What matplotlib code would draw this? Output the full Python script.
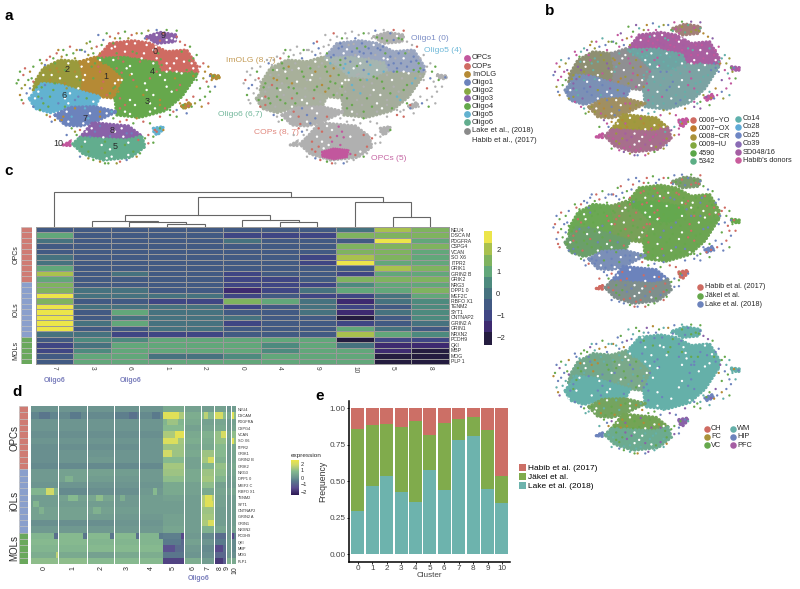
import numpy as np
import matplotlib
matplotlib.use('Agg')
import matplotlib.pyplot as plt
from matplotlib.colors import BoundaryNorm, ListedColormap, LinearSegmentedColormap
from matplotlib.patches import Polygon, Rectangle

plt.rcParams['font.family'] = ['Liberation Sans', 'DejaVu Sans']

W, H = 800, 589
DARK = '#2a2a2a'

# ---------- colours ----------
R = '#cf6b62'; O = '#b58a35'; OL = '#9a9a3c'; G = '#66a84c'; LB = '#62b2d0'; B = '#6c83bc'
P = '#8a62a8'; T = '#62ad8e'; PK = '#c2579d'; GR = '#b0b0b0'; TQ = '#65b0a9'; WH = '#ffffff'
MG = '#a55ea3'; YG = '#82a83f'

# ---------- t-SNE: outlines of the dense cluster bodies ----------
outlines = {
    '2': [(100,270),(105,245),(130,205),(180,180),(240,185),(250,230),(245,275),(180,255),(125,250)],
    '1': [(240,185),(290,170),(330,195),(375,235),(350,295),(300,290),(245,275),(250,230)],
    '0': [(300,165),(330,130),(400,122),(450,130),(500,155),(560,150),(592,200),(590,222),(480,218),(470,190),(375,175),(310,180)],
    '4': [(295,175),(375,172),(470,188),(482,218),(430,240),(375,235),(330,195)],
    '3': [(345,295),(375,235),(430,240),(482,218),(592,222),(545,290),(495,332),(420,352),(350,345)],
    '6': [(88,295),(125,250),(180,255),(245,275),(300,290),(285,320),(210,322),(150,338),(105,325)],
    '7': [(165,345),(210,322),(285,320),(350,335),(280,368),(240,378),(195,375)],
    '9': [(440,110),(480,97),(530,105),(525,125),(470,130)],
    '8': [(240,412),(278,368),(385,378),(425,408),(380,420),(280,415)],
    '5': [(218,432),(240,412),(280,415),(380,420),(425,408),(435,440),(392,472),(310,480),(250,462)],
    '10': [(190,435),(210,425),(210,437)],
    'x': [(460,385),(490,380),(485,392),(472,405),(462,398)],
    'y': [(632,225),(660,228),(655,237),(635,233)],
    'z': [(545,318),(570,307),(572,318),(552,325)],
}
opc_core = [(285,455),(320,445),(365,450),(360,472),(320,478),(285,470)]

# single cells read inside each body
cells = {
    '0': [(320,165),(335,145),(350,160),(365,135),(375,155),(390,145),(405,130),(410,160),(425,145),(440,135),(445,165),(460,150),(475,160),(490,170),(500,190),(515,160),(530,175),(545,155),(560,170),(575,190),(540,200),(510,205),(485,195),(395,170),(425,175),(355,175),(580,205),(340,130),
          (312,172),(345,140),(360,148),(380,132),(398,155),(415,140),(432,160),(452,145),(468,140),(482,178),(505,175),(522,190),(535,160),(552,185),(568,182),(590,210),(470,175),(385,165),(500,215),(560,210)],
    '9': [(450,112),(470,105),(490,100),(510,108),(525,118),(480,122),(460,125),(500,120),(440,118),(465,115),(515,115),(530,110)],
    '2': [(115,250),(130,225),(150,210),(165,190),(185,200),(205,190),(225,215),(240,240),(210,245),(180,235),(150,240),(125,262),(200,265),(235,265),(175,215),
          (110,262),(140,235),(155,225),(170,205),(195,210),(215,205),(230,230),(195,250),(165,250),(138,210),(245,200)],
    '1': [(250,205),(265,185),(285,190),(300,215),(320,205),(335,225),(355,240),(340,265),(320,285),(295,275),(270,260),(250,240),(280,235),(310,245),(265,215),(345,285),
          (255,225),(275,200),(295,200),(310,228),(325,250),(345,250),(330,280),(305,265),(285,255),(262,270),(300,180)],
    '4': [(310,190),(340,180),(370,185),(400,190),(430,195),(460,190),(470,215),(440,230),(410,210),(380,205),(350,205),
          (325,185),(355,192),(390,198),(420,185),(450,210),(425,222),(395,222),(365,218),(340,195)],
    '3': [(345,260),(365,240),(390,225),(420,240),(450,235),(480,225),(510,215),(545,220),(580,228),(555,250),(530,270),(500,260),(470,265),(440,270),(410,260),(380,270),(360,295),(390,300),(420,295),(450,310),(480,300),(510,290),(495,325),(450,335),(410,335),(375,335),
          (355,275),(375,255),(400,240),(435,250),(465,245),(495,240),(525,235),(565,235),(540,255),(515,275),(490,280),(460,285),(430,285),(400,280),(375,315),(405,315),(435,320),(465,325),(480,315),(520,300),(360,325),(390,342),(575,215),(530,215)],
    '6': [(95,300),(115,275),(135,255),(160,270),(185,262),(210,280),(235,290),(260,295),(240,310),(205,310),(175,310),(145,320),(115,315),
          (105,295),(125,295),(150,290),(170,285),(195,295),(225,300),(130,310),(160,300),(280,305),(100,320),(195,320),(150,265)],
    '7': [(175,345),(200,335),(225,325),(255,325),(285,335),(320,340),(300,350),(265,355),(240,365),(205,365),
          (185,360),(215,350),(240,345),(270,340),(300,335),(335,335),(220,372),(250,370),(190,350)],
    '8': [(250,408),(275,385),(300,378),(335,380),(365,385),(395,400),(410,405),(370,410),(330,408),(290,405),
          (260,395),(285,395),(315,390),(345,395),(380,400),(400,410),(310,412),(270,410),(350,412)],
    '5': [(230,432),(255,425),(285,425),(315,425),(350,428),(385,428),(420,440),(400,455),(370,462),(335,470),(300,465),(265,455),(290,445),(330,448),(365,445),
          (245,440),(275,440),(305,435),(340,435),(375,435),(410,445),(385,465),(350,458),(315,458),(280,468),(320,475),(255,448)],
}

# cells scattered outside the bodies
strays = [(60,215),(75,205),(90,215),(100,200),(125,190),(135,195),(160,175),(170,160),(190,150),(210,140),(230,150),(245,150),(260,130),
          (295,105),(320,100),(355,100),(360,115),(395,105),(410,100),(425,100),(445,92),(470,90),(530,92),(540,125),(580,175),(600,200),
          (615,215),(590,240),(610,235),(645,260),(600,265),(580,290),(615,290),(625,310),(605,320),(575,320),(550,325),(530,330),(510,345),
          (430,365),(400,370),(380,360),(60,285),(65,300),(75,255),(90,265),(55,240),(100,245),(120,330),(150,350),(165,360),(230,405),
          (225,395),(200,405),(435,415),(445,430),(460,428),(415,420),(300,485),(325,490),(350,490),(380,480),(280,480),(470,395),(480,385),
          (465,390),(490,390),(640,228),(655,232),(630,228),(550,315),(565,318),(510,330),(520,335),(300,160),(280,160),(265,165),(240,150),
          (115,290),(70,225),(85,240),(140,180),(185,170),(220,160),(275,145),(310,120),(570,140),(595,215),(625,260),(560,300),(540,310),
          (50,250),(65,265),(80,280),(95,235),(70,310),(120,180),(150,170),(175,150),(200,165),(225,175),(255,155),(270,125),(290,140),(305,135),
          (330,110),(345,115),(375,95),(385,115),(435,115),(500,90),(555,135),(590,165),(610,190),(625,200),(600,300),(585,310),(560,340),(530,350),
          (480,350),(450,370),(360,365),(410,355),(340,355),(140,345),(155,365),(215,385),(240,390),(460,410),(445,405),(410,470),(420,460),(265,475),
          (240,470),(315,490),(360,485),(630,275),(620,245),(635,240)]

# per panel: body colour and the colours of the cells on top of it
panel_a1 = {'0':(R,[R,WH,G,R,WH]), '9':(P,[P,WH,R]), '2':(OL,[OL,WH,O,G]), '1':(O,[O,WH,G,R,O]), '4':(G,[G,WH,R,G]), '3':(G,[G,WH,O,G,R,WH]),
            '6':(LB,[LB,WH,B,G]), '7':(B,[B,WH,O,LB]), '8':(P,[P,WH,B]), '5':(T,[T,WH,T,G]), '10':(PK,[PK]), 'x':(LB,[B]), 'y':(O,[O]), 'z':(O,[O])}
strays_a1 = [G,R,O,G,OL,B,G,R]
panel_a2 = {'0':('#9aa6c0',[B,B,WH,GR,B,G,B]), '9':(GR,[G,GR,B,WH,G]), '2':('#a8b09a',[G,GR,WH,G,O,GR]), '1':('#a8b09a',[G,WH,GR,G,O]), '4':('#a5b5b0',[LB,G,B,WH,LB,GR]), '3':('#a5ad9c',[G,WH,GR,LB,G,GR]),
            '6':('#a9b1a0',[G,GR,R,WH,G]), '7':(GR,[GR,R,B,WH,GR]), '8':(GR,[GR,R,WH,PK,GR]), '5':(GR,[GR,R,WH,PK,GR]), '10':(GR,[GR]), 'x':(GR,[GR]), 'y':(GR,[GR]), 'z':(GR,[GR])}
strays_a2 = [GR,GR,G,GR,B,GR,R,GR]
panel_b1 = {'0':('#a95fa0',[PK,WH,MG,TQ,PK]), '9':('#a37f78',[PK,OL,T]), '2':('#8e8f72',[OL,P,WH,PK,TQ]), '1':('#8f8f92',[O,TQ,WH,PK,OL]), '4':('#6fa3a2',[TQ,PK,WH,TQ]),
            '3':('#7ba3a3',[TQ,PK,WH,B,TQ]), '6':('#7b90b5',[B,P,OL,WH,TQ]), '7':('#a08f62',[OL,O,B,WH,PK]), '8':('#a2983f',[OL,O,WH,PK]), '5':('#a76f8c',[PK,OL,MG,WH,PK]),
            '10':(PK,[PK]), 'x':(PK,[PK]), 'y':(MG,[O]), 'z':(PK,[OL])}
strays_b1 = [PK,TQ,OL,B,PK,G,P,O]
panel_b2 = {'0':('#72a552',[G,R,WH,G,B,R]), '9':('#7b9a6d',[G,R,B]), '2':('#6ba854',[G,R,WH,B,G]), '1':('#78a058',[G,R,WH,G,R]), '4':('#64a84f',[G,R,WH,G]),
            '3':('#6ca552',[G,R,WH,G,B]), '6':('#6b9f6a',[G,R,B,WH,G]), '7':('#7b8fb8',[B,WH,B,G]), '8':('#6c83bc',[B,R,WH,B]), '5':('#7f8f8c',[R,G,B,WH,R]),
            '10':(R,[R]), 'x':(R,[R]), 'y':(G,[B]), 'z':(B,[B])}
strays_b2 = [B,R,G,B,R,G,B]
panel_b3 = {'0':(TQ,[TQ,B,WH,TQ,G]), '9':(TQ,[TQ,G,B]), '2':('#72a88c',[TQ,G,WH,B,O]), '1':('#7aa98a',[G,TQ,WH,B]), '4':(TQ,[TQ,B,WH,TQ]),
            '3':(TQ,[TQ,B,WH,TQ,TQ]), '6':(TQ,[TQ,B,WH,TQ]), '7':('#74a45f',[G,O,WH,TQ]), '8':('#74a455',[G,O,WH,P]), '5':('#6cab90',[TQ,G,P,WH,TQ]),
            '10':(B,[B]), 'x':(P,[MG]), 'y':(TQ,[TQ]), 'z':(B,[B])}
strays_b3 = [B,G,TQ,O,B,TQ,G,P]

cluster_labels = ['9','0','2','1','4','6','3','7','8','5']
cluster_label_xy = [(490,107),(465,155),(200,210),(316,230),(458,215),(193,288),(442,305),(255,357),(335,392),(344,440)]

# ---------- panel c ----------
genes_c = ['NEU4','DSCA M','PDGFRA','CSPG4','VCAN','SO X6','ITPR2','GRIK1','GRIN2 B','GRIK2','NRG3','DPP1 0','MEF2C','RBFO X1','TENM2','SYT1','CNTNAP2','GRIN2 A','GRIN1','NRXN2','PCDH9','QKI','MBP','MOG','PLP 1']
order_c = ['7','3','6','1','2','0','4','9','10','5','8']
c7  = [-.5,1,.2,-.5,-.5,.2,.2,1,2,1,1.5,1.5,2.5,1.5,2.5,2.5,2.5,2.5,2.5,.2,-.5,-1,-1,-.5,-.5]
c3  = [-.5,-.5,-.5,-.5,-.5,-.5,-.5,-.5,-.5,-.5,-.5,-.1,0,-.5,0,-.5,-.5,0,-.5,.2,.7,.2,.7,.8,.8]
c6  = [-.5,-.5,-.5,-.5,-.5,-.5,-.5,-.5,0,-.5,-.5,.2,-.2,-.5,.2,1,.2,1,-.5,-1,.7,.8,.8,.8,.8]
c1  = [-.5,-.5,-.5,-.5,-.5,-.5,-.5,-.5,-.5,-.5,-.5,-.5,.2,-1,.2,.2,.2,.2,.2,-1,.8,.8,.8,0,.8]
c2  = [-.5,-.5,-.5,-.5,-.5,-.5,-.5,-.5,-.5,-.5,-.5,-.5,.2,-1,.2,.2,.2,.2,.2,-1,1,.8,.8,0,.8]
c0  = [-.5,-1,0,-.3,-.3,-.3,-.3,-.3,-1,-1,-1,-1.5,-1,1.5,-1,-.5,.2,-1,-.5,-.5,.8,1.2,.8,.6,.8]
c4  = [-.5,-1,-.5,-.5,-.5,-.5,-.5,-.5,-.5,-1,-1,-1,-.5,1,-.5,-.5,-.5,-.5,-.5,-.5,.8,.7,.7,.8,.8]
c9  = [-.5,-1,-.5,-.5,-.5,-1,-1,-.5,-.5,-.5,-1,-.2,-1,0,0,0,-.3,-.3,-.5,-.5,.8,1.2,.8,.8,.8]
c10 = [.2,1.5,-.5,1.5,1.5,2,2.5,-.5,-1,1.5,.7,1,-1,-1.5,-1,-1.5,-2,-1,1,2,-2,.2,.8,1.2,.8]
c5  = [2,1.5,2.5,1.5,1.5,1.5,1.2,2,1.2,1.5,1.2,1.2,0,0,-.3,0,-.5,-.5,.2,1,-1,-1.5,-1.5,-2,-2]
c8  = [1.5,1.5,1.2,1.5,1,1,1,1.5,1.2,1.5,1,1.5,1,.7,.7,.7,.7,.2,-.3,.7,-1,-1.5,-2,-2,-2]
heat_c = np.array([c7,c3,c6,c1,c2,c0,c4,c9,c10,c5,c8]).T

bin_edges = [-2.35,-1.75,-1.25,-0.75,-0.25,0.25,0.75,1.25,1.75,2.3,2.83]
bin_colours = ['#241c3f','#3d2a70','#3f4684','#425a83','#46727f','#4d8a7e','#62a77a','#7fb35f','#a9c14e','#ece54a']
cbar_ticks = [2,1,0,-1,-2]
cbar_labels = ['2','1','0','\u22121','\u22122']

# dendrogram merges: left x, right x, height, left foot, right foot (x in column units)
dendro = [(3.5,4.5,3.3,0,0),(2.5,4.0,5.3,0,3.3),(1.5,3.25,5.7,0,5.3),(6.5,7.5,4.7,0,0),(5.5,7.0,7,0,4.7),
          (2.38,6.25,12,5.7,7),(8.5,10.0,24.7,0,9.7),(9.5,10.5,9.7,0,0),(4.31,9.25,30,12,24.7),(0.5,6.79,35,0,30)]

row_groups = ['OPCs','iOLs','MOLs']
row_group_sizes = [10,10,5]
row_group_colours = ['#cf7b73','#8a9fcc','#6aa85c']

# ---------- panel d ----------
genes_d = ['NEU4','DSCAM','PDGFRA','CSPG4','VCAN','SO X6','ITPR2','GRIK1','GRIN2 B','GRIK2','NRG3','DPP1 0','MEF2 C','RBFO X1','TENM2','SYT1','CNTNAP2','GRIN2 A','GRIN1','NRXN2','PCDH9','QKI','MBP','MOG','PLP1']
d0  = [0,-.3,0,0,-.1,0,-.1,-.1,-.1,-.2,.1,.1,0,.8,.2,.2,.3,.3,-.1,.1,.8,.9,.8,.6,1]
d1  = [0,-.2,0,0,-.1,0,-.1,0,0,-.2,.3,.3,0,-.2,.3,.2,.3,.3,-.1,.1,.9,.9,.8,.5,1]
d2  = [0,-.2,0,0,-.1,0,-.1,0,.1,-.2,.3,.2,0,-.1,.4,.2,.3,.2,-.1,.1,.9,.8,.9,.3,.9]
d3  = [0,-.4,0,0,-.1,0,-.1,0,0,-.2,.2,.1,0,-.1,.1,.1,.2,.1,0,.1,.9,.8,.9,.5,.9]
d4  = [0,-.2,0,0,-.1,0,0,0,0,-.2,.1,.1,0,.1,.2,.2,.2,.1,0,.1,.8,.8,.9,.6,.9]
d5  = [.5,1.4,.8,.9,1.4,1.3,1.2,1.2,.9,1.3,1.2,1,.5,.5,.3,.2,.2,.3,.3,.4,-.4,-.5,-.8,-.6,-1.4]
d6  = [.3,.6,.5,.3,.5,.6,.4,.5,.3,.3,.5,.5,.3,.3,.2,.2,.2,.2,.2,.2,.1,.3,.1,0,.6]
d7  = [.2,.9,.3,.4,.7,.6,.5,1.2,1.3,.8,1.2,1.3,1,.5,1.5,1.5,1.2,1.3,1.4,.7,-.2,0,-.2,-.1,.2]
d8  = [.3,1.0,.4,.5,1.1,1.1,.9,.9,.7,1.1,1,.8,.3,.4,.3,.3,.2,.2,.2,.4,-.8,-.5,-.8,-.9,-1.2]
d9  = [0,.4,.1,.1,.3,.2,.1,.1,.1,.2,.2,.1,.1,.3,.1,.1,.1,.1,.1,.1,.1,.2,.2,.1,.7]
d10 = [.2,1,.3,.4,1,1.1,.5,.4,.4,.5,.4,.3,.2,.4,.2,.2,.2,.2,.2,.3,-.4,-.2,-.2,-.1,.5]
heat_d = [d0,d1,d2,d3,d4,d5,d6,d7,d8,d9,d10]
d_clusters = ['0','1','2','3','4','5','6','7','8','9','10']
# stretches of single cells that stand out inside a cluster: cluster, from, to (share of width), gene row, value
d_streaks = [(0,.55,.85,13,1.9),(0,.1,.3,15,.8),(0,.3,.5,16,.7),(0,.3,.7,1,-.6),(0,.85,1,20,-.7),(0,.9,1,23,1.6),
             (1,.3,.7,14,.9),(1,.2,.5,11,.7),(1,.4,.8,1,-.5),(1,.85,1,20,-.6),(2,.3,.6,14,1),(2,.85,1,20,-.6),(2,.2,.5,16,.7),
             (3,.6,.9,1,-.7),(3,.85,1,20,-.7),(3,.2,.4,14,.6),(4,.85,1,20,-.5),(4,.5,.9,1,-.5),(4,.55,.75,13,.9),
             (5,0,.75,1,2.2),(5,.55,1,4,2.3),(5,0,.7,5,2.1),(5,0,.4,7,1.9),(5,.2,.7,2,1.2),(5,.85,1,20,-1.6),(5,.85,1,21,-.9),(5,0,.55,22,-1.4),(5,0,1,24,-1.7),
             (7,.3,.8,14,2.2),(7,.3,.9,15,2.2),(7,.5,1,18,2.1),(7,.2,.5,1,1.6),(7,.5,1,8,2),
             (8,0,.7,1,2),(8,.5,1,4,2),(8,0,.7,22,-1.6),(8,0,.7,24,-1.9),(10,0,.5,1,2.2),(10,0,.5,5,2.2),(10,0,.6,20,-1.6)]

# ---------- panel e ----------
cluster_e = ['0','1','2','3','4','5','6','7','8','9','10']
lake  = [.30,.47,.54,.43,.36,.58,.44,.78,.81,.45,.355]
jakel = [.56,.415,.355,.445,.55,.24,.46,.15,.13,.40,.18]
habib = [.14,.115,.105,.125,.09,.18,.10,.07,.06,.15,.465]


fig = plt.figure(figsize=(W/100, H/100), dpi=100)
fig.set_facecolor('white')

def px_axes(x0, y0, x1, y1):
    # axes placed by pixel box of the 800x589 canvas
    return fig.add_axes([x0/W, 1-y1/H, (x1-x0)/W, (y1-y0)/H])

def draw_tsne(x0, y0, sx, sy, scheme, stray_cols, size=3.0):
    # data frame is the t-SNE frame 40..680 / 80..500
    ax = px_axes(x0+40*sx, y0+80*sy, x0+680*sx, y0+500*sy)
    ax.set_xlim(40, 680); ax.set_ylim(500, 80); ax.axis('off')
    for name, pts in outlines.items():
        # dotted edge in the body colour keeps the rim from looking cut out
        ax.add_patch(Polygon(pts, closed=True, facecolor=scheme[name][0], edgecolor=scheme[name][0],
                             linewidth=2.4, linestyle=(0, (0.1, 1.0)), capstyle='round'))
    xy = np.array(strays)
    ax.scatter(xy[:,0], xy[:,1], s=size, c=[stray_cols[i % len(stray_cols)] for i in range(len(xy))], linewidths=0)
    for name, pts in cells.items():
        cols = scheme[name][1]
        xy = np.array(pts)
        ax.scatter(xy[:,0], xy[:,1], s=size, c=[cols[i % len(cols)] for i in range(len(xy))], linewidths=0)
    return ax

# ---------- panel a ----------
ax = draw_tsne(0, 0, 1/3, 1/3, panel_a1, strays_a1)
for t, (x, y) in zip(cluster_labels, cluster_label_xy):
    ax.text(x, y, t, fontsize=6.5, color=DARK, ha='center', va='center')
ax.text(175, 430, '10', fontsize=6.5, color=DARK, ha='center', va='center')
ax = draw_tsne(227, 0, 1/3, 1/3, panel_a2, strays_a2)
ax.add_patch(Polygon(opc_core, closed=True, facecolor=PK, edgecolor=PK, linewidth=1.5, linestyle=(0, (0.1, 1.0)), capstyle='round'))

# ---------- panel b ----------
draw_tsne(555-55*.306, 20-85*.334, .306, .334, panel_b1, strays_b1, size=2.8)
draw_tsne(555-55*.306, 173-85*.33, .306, .33, panel_b2, strays_b2, size=2.8)
draw_tsne(555-55*.306, 323-85*.322, .306, .322, panel_b3, strays_b3, size=2.8)

# ---------- panel c ----------
ax = px_axes(35.5, 227, 449, 364)
cmap_c = ListedColormap(bin_colours)
norm_c = BoundaryNorm(bin_edges, cmap_c.N)
ax.pcolormesh(heat_c, cmap=cmap_c, norm=norm_c, edgecolors='#999999', linewidth=0.7)
ax.set_ylim(25, 0)
ax.set_xticks(np.arange(11)+.5)
ax.set_xticklabels(order_c, rotation=270, fontsize=4.8, color='#444444')
ax.set_yticks(np.arange(25)+.5)
ax.set_yticklabels(genes_c, fontsize=3.7, color='#333333')
ax.yaxis.tick_right()
ax.tick_params(length=0, pad=1.5)
for s in ax.spines.values():
    s.set_color('#999999'); s.set_linewidth(0.7)

ax = px_axes(35.5, 190, 449, 227)
ax.set_xlim(0, 11); ax.set_ylim(0, 37); ax.axis('off')
for xl, xr, h, fl, fr in dendro:
    ax.plot([xl, xl, xr, xr], [fl, h, h, fr], color='#666666', lw=0.8, solid_joinstyle='miter')

ax = px_axes(21, 227, 32, 364)
ax.set_xlim(0, 1); ax.set_ylim(25, 0); ax.axis('off')
top = 0
for name, n, col in zip(row_groups, row_group_sizes, row_group_colours):
    for r in range(n):
        ax.add_patch(Rectangle((0, top+r), 1, 1, facecolor=col, edgecolor='#bbbbbb', linewidth=0.4))
    ax.text(-0.45, top+n/2, name, rotation=90, fontsize=5, color=DARK, ha='center', va='center', clip_on=False)
    top += n

ax = px_axes(484, 231, 492, 345)
ax.pcolormesh([0, 1], bin_edges, np.array(bin_edges[:-1])[:, None]+0.01, cmap=cmap_c, norm=norm_c)
ax.set_ylim(bin_edges[0], bin_edges[-1])
ax.set_xticks([])
ax.yaxis.tick_right()
ax.set_yticks(cbar_ticks)
ax.set_yticklabels(cbar_labels, fontsize=5.5, color=DARK)
ax.tick_params(length=0, pad=3)
for s in ax.spines.values():
    s.set_visible(False)

# ---------- panel d ----------
block_px = [(30.7,58.3),(59.3,86.7),(87.7,114),(114.7,139.3),(140.3,162.7),(163.3,184),(185,200.7),(201.7,214),(215,226.3),(227,231),(232,236)]
cmap_d = LinearSegmentedColormap.from_list('d', [(0,'#2e1a55'),(.2,'#5b4e8f'),(.4,'#5a7a8c'),(.5,'#6d9590'),(.68,'#85b98f'),(.87,'#cfd96a'),(1,'#ece54a')])
ax = px_axes(30.7, 406, 236, 564.3)
for (x0, x1), vals in zip(block_px, heat_d):
    ax.pcolormesh([x0, x1], np.arange(26), np.array(vals)[:, None], cmap=cmap_d, vmin=-2.5, vmax=2.5)
for b, f0, f1, r, v in d_streaks:
    x0, x1 = block_px[b]
    ax.add_patch(Rectangle((x0+f0*(x1-x0), r), (f1-f0)*(x1-x0), 1, facecolor=cmap_d((v+2.5)/5), edgecolor='none'))
ax.set_xlim(30.7, 236); ax.set_ylim(25, 0)
# 9 and 10 sit on narrow blocks, their labels are pushed apart a little
d_tick_px = [(a+b)/2 for a, b in block_px[:9]] + [227.5, 234.5]
ax.set_xticks(d_tick_px)
ax.set_xticklabels(d_clusters, rotation=90, fontsize=5, color=DARK)
ax.set_yticks(np.arange(25)+.5)
ax.set_yticklabels(genes_d, fontsize=2.8, color='#333333')
ax.yaxis.tick_right()
ax.tick_params(length=0, pad=1.5)
for s in ax.spines.values():
    s.set_visible(False)

ax = px_axes(19, 406, 28, 564.3)
ax.set_xlim(0, 1); ax.set_ylim(25, 0); ax.axis('off')
top = 0
for name, n, col in zip(row_groups, row_group_sizes, row_group_colours):
    for r in range(n):
        ax.add_patch(Rectangle((0, top+r), 1, 1, facecolor=col, edgecolor='#bbbbbb', linewidth=0.4))
    ax.text(-0.55, top+n/2, name, rotation=90, fontsize=7, color=DARK, ha='center', va='center', clip_on=False)
    top += n

ax = px_axes(291, 460, 299, 495)
ax.imshow(np.linspace(2.5, -2.5, 60)[:, None], extent=[0, 1, -2.5, 2.5], aspect='auto', cmap=cmap_d, vmin=-2.5, vmax=2.5)
ax.set_xticks([])
ax.yaxis.tick_right()
ax.set_yticks(cbar_ticks)
ax.set_yticklabels(cbar_labels, fontsize=4, color=DARK)
ax.tick_params(length=0, pad=1)
for s in ax.spines.values():
    s.set_visible(False)

# ---------- panel e ----------
ax = px_axes(349.3, 401, 510, 561.7)
xpos = np.arange(len(cluster_e))
ax.bar(xpos, lake, width=.9, color='#6db3ad', label='Lake et al. (2018)')
ax.bar(xpos, jakel, width=.9, bottom=lake, color='#80ab4c', label='J\u00e4kel et al.')
ax.bar(xpos, habib, width=.9, bottom=np.add(lake, jakel), color='#cc6f66', label='Habib et al. (2017)')
ax.set_xlim(-.6, 10.56); ax.set_ylim(-.05, 1.05)
ax.set_xticks(xpos); ax.set_xticklabels(cluster_e)
ax.set_yticks([0, .25, .5, .75, 1]); ax.set_yticklabels(['0.00','0.25','0.50','0.75','1.00'])
ax.tick_params(labelsize=5.9, labelcolor='#444444', length=1.5, width=.6, pad=1.2)
ax.set_xlabel('Cluster', fontsize=5.9, color='#444444', labelpad=-0.5)
ax.set_ylabel('Frequency', fontsize=6.2, color='#333333', labelpad=1.5)
for s in ['top', 'right']:
    ax.spines[s].set_visible(False)
for s in ['left', 'bottom']:
    ax.spines[s].set_linewidth(1.1)
handles, labels = ax.get_legend_handles_labels()
ax.legend(handles[::-1], labels[::-1], loc='center left', bbox_to_anchor=(1.055, .525), frameon=False, fontsize=6,
          handlelength=.8, handleheight=.8, handletextpad=.35, labelspacing=.1, borderpad=0, borderaxespad=0)

# ---------- overlay for text and legends, pixel frame ----------
ov = fig.add_axes([0, 0, 1, 1], zorder=10)
ov.set_xlim(0, W); ov.set_ylim(H, 0); ov.axis('off')

panel_letters = ['a','b','c','d','e']
letter_xy = [(9,16),(550,11),(9,171),(17,392),(320,396)]
for t, (x, y) in zip(panel_letters, letter_xy):
    ov.text(x, y, t, fontsize=11, fontweight='bold', color='black', ha='center', va='center')

notes = [('Oligo1 (0)',430,38,'#7a8cc5'),('Oligo5 (4)',443,51,'#6db8d8'),('ImOLG (8, 7)',251,60,'#c39b55'),
         ('Oligo6 (6,7)',240,114,'#72b79b'),('COPs (8, 7)',276,132,'#e0867c'),('OPCs (5)',389,158,'#c565a3')]
for t, x, y, c in notes:
    ov.text(x, y, t, fontsize=6.1, color=c, ha='center', va='center')

def dot_legend(names, colours, xm, ys, xt, fs=5.4, ms=24):
    for n, c, y in zip(names, colours, ys):
        ov.scatter([xm], [y], s=ms, color=c, linewidths=0)
        ov.text(xt, y, n, fontsize=fs, color=DARK, ha='left', va='center')

dot_legend(['OPCs','COPs','ImOLG','Oligo1','Oligo2','Oligo3','Oligo4','Oligo5','Oligo6','Lake et al., (2018)'],
           [PK,'#cf6b62',O,B,'#86a843',P,'#63a84b',LB,T,'#8a8a8a'],
           467, [57.7,66,74,82.3,90.7,98.3,106,114,122.3,130.7], 472)
ov.text(472, 140, 'Habib et al., (2017)', fontsize=5.4, color=DARK, ha='left', va='center')

dot_legend(['0006\u2212YO','0007\u2212OX','0008\u2212CR','0009\u2212IU','4590','5342'],
           ['#cf6b62','#c07a2b','#a9923a','#82a83f','#5aa648','#5cae85'],
           693.3, [120,128.3,136.7,145,153.3,161.3], 698.7, fs=5.3, ms=22)
dot_legend(['Co14','Co28','Co25','Co39','SD048/16',"Habib's donors"],
           ['#5fb0ac','#5ea9d6','#6e86c4','#8a6bb5','#a55ea3','#c95c9c'],
           738, [118.7,127,135.3,143.7,152,160.3], 743, fs=5.3, ms=22)
dot_legend(['Habib et al. (2017)','J\u00e4kel et al.','Lake et al. (2018)'], [R,G,B],
           699.7, [287,295.7,304.3], 705, fs=5.3, ms=22)
dot_legend(['CH','FC','VC'], [R,'#a9923a',G], 706.7, [428.7,437,445.3], 711, fs=5.3, ms=22)
dot_legend(['WM','HIP','PFC'], [TQ,B,MG], 732.7, [428.7,437,445.3], 737, fs=5.3, ms=22)

for x, y in [(54.5,380),(131,381),(199,579)]:
    ov.text(x, y, 'Oligo6', fontsize=5, fontweight='bold', color='#7c80bd', ha='center', va='center')
ov.text(291, 456, 'expression', fontsize=4.6, color=DARK, ha='left', va='center')

plt.savefig('out.png', dpi=100, facecolor='white')
plt.close(fig)
